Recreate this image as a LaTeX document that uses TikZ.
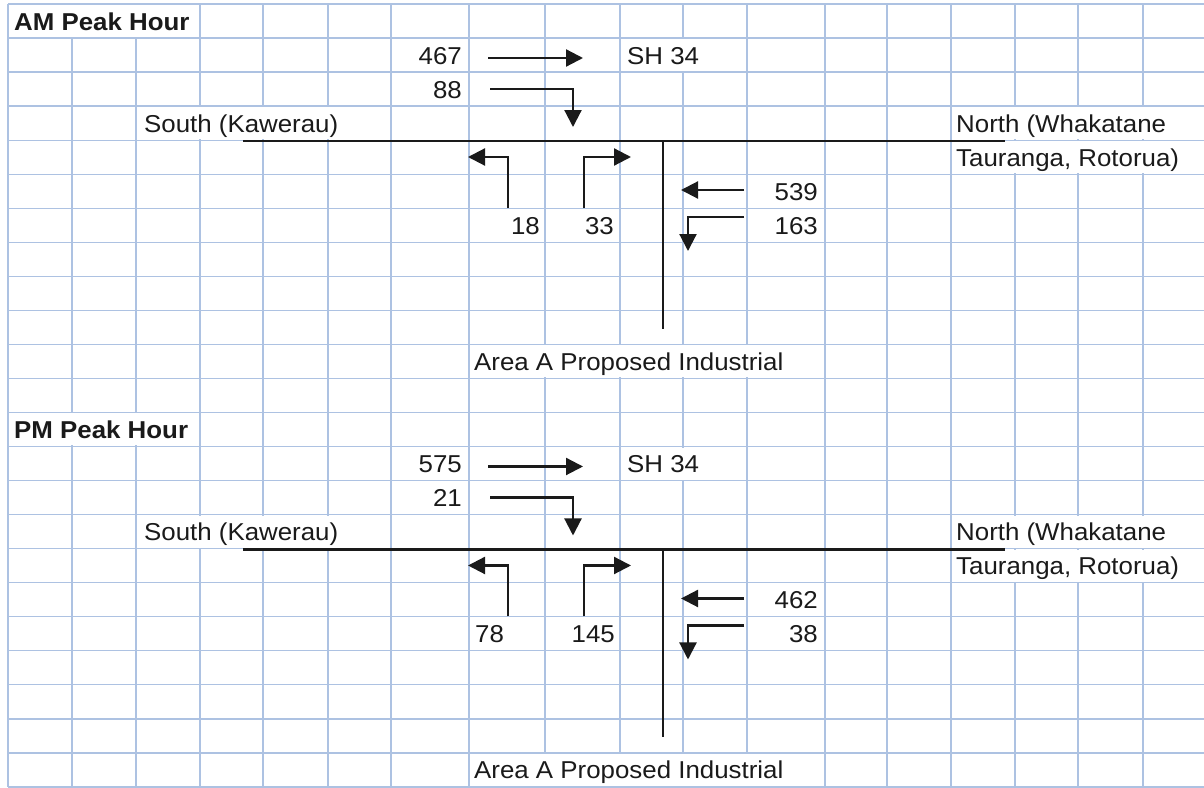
\documentclass[tikz,border=0pt]{standalone}
\usepackage{fontspec}
\setmainfont{Liberation Sans}[FakeStretch=1.06]
\usetikzlibrary{arrows.meta}
\definecolor{gridblue}{HTML}{ADC2E2}
\definecolor{ink}{HTML}{1A1A1A}
\tikzset{
    gridln/.style={draw=gridblue, line width=1.3pt},
    road/.style={draw=ink, line width=2.4pt},
    mvmt/.style={draw=ink, line width=2.2pt, -{Triangle[length=17pt, width=17pt]}},
    lbl/.style={fill=white, inner xsep=2pt, inner ysep=2pt, text height=23pt, text depth=5pt,
                text=ink, font=\fontsize{24.4}{28}\selectfont},
    hdr/.style={lbl, font=\fontsize{24.4}{28}\selectfont\bfseries}
}

\begin{document}
\begin{tikzpicture}[x=1pt, y=-1pt]
    \useasboundingbox (0,0) rectangle (1204,787);
    \fill[white] (0,0) rectangle (1204,787);
    % spreadsheet grid
    \foreach \gx in {8,72,136,200,263,328,391,469,545,620,683,747,825,887,951,1015,1078,1143}
        \draw[gridln] (\gx,4) -- (\gx,787);
    \foreach \gi in {0,...,23}
        \draw[gridln] (8,{4+34.04*\gi}) -- (1204,{4+34.04*\gi});
    % AM and PM use the same layout, 12 rows apart
    \foreach \p/\dy/\ttl in {am/0/AM, pm/408.48/PM}{
        \begin{scope}[yshift=-\dy pt]
            \node[hdr, anchor=west] (\p-title) at (12,21) {\ttl\ Peak Hour};
            \node[lbl, anchor=west] (\p-sh) at (625,55.04) {SH 34};
            \node[lbl, anchor=west] (\p-south) at (142,123.12) {South (Kawerau)};
            \node[lbl, anchor=west] (\p-north) at (954,123.12) {North (Whakatane};
            \node[lbl, anchor=west] (\p-north2) at (954,157.16) {Tauranga, Rotorua)};
            \node[lbl, anchor=west] (\p-area) at (472,361.4) {Area A Proposed Industrial};
            \coordinate (\p-rw) at (243,141);
            \coordinate (\p-re) at (1005,141);
            \coordinate (\p-sr) at (663,141);
            \coordinate (\p-send) at (663,329);
            \coordinate (\p-t0) at (488,58);  \coordinate (\p-t1) at (583,58);
            \coordinate (\p-r0) at (490,89);  \coordinate (\p-r1) at (573,127);
            \coordinate (\p-l0) at (508,208); \coordinate (\p-l1) at (468,157);
            \coordinate (\p-q0) at (584,208); \coordinate (\p-q1) at (631,157);
            \coordinate (\p-n0) at (744,190); \coordinate (\p-n1) at (681,190);
            \coordinate (\p-m0) at (744,217); \coordinate (\p-m1) at (688,251);
            \draw[road] (\p-rw) -- (\p-re);
            \draw[road] (\p-sr) -- (\p-send);
            \draw[mvmt] (\p-t0) -- (\p-t1);
            \draw[mvmt] (\p-r0) -| (\p-r1);
            \draw[mvmt] (\p-l0) |- (\p-l1);
            \draw[mvmt] (\p-q0) |- (\p-q1);
            \draw[mvmt] (\p-n0) -- (\p-n1);
            \draw[mvmt] (\p-m0) -| (\p-m1);
        \end{scope}
    }
    % AM counts
    \node[lbl, anchor=east] (am-thru) at (464,55.04) {467};
    \node[lbl, anchor=east] (am-right) at (464,89.08) {88};
    \node[lbl, anchor=east] (am-outl) at (542,225.24) {18};
    \node[lbl, anchor=east] (am-outr) at (616,225.24) {33};
    \node[lbl, anchor=east] (am-nthru) at (820,191.2) {539};
    \node[lbl, anchor=east] (am-nturn) at (820,225.24) {163};
    % PM counts
    \begin{scope}[yshift=-408.48pt]
        \node[lbl, anchor=east] (pm-thru) at (464,55.04) {575};
        \node[lbl, anchor=east] (pm-right) at (464,89.08) {21};
        \node[lbl, anchor=west] (pm-outl) at (473,225.24) {78};
        \node[lbl, anchor=east] (pm-outr) at (617,225.24) {145};
        \node[lbl, anchor=east] (pm-nthru) at (820,191.2) {462};
        \node[lbl, anchor=east] (pm-nturn) at (820,225.24) {38};
    \end{scope}
\end{tikzpicture}
\end{document}
